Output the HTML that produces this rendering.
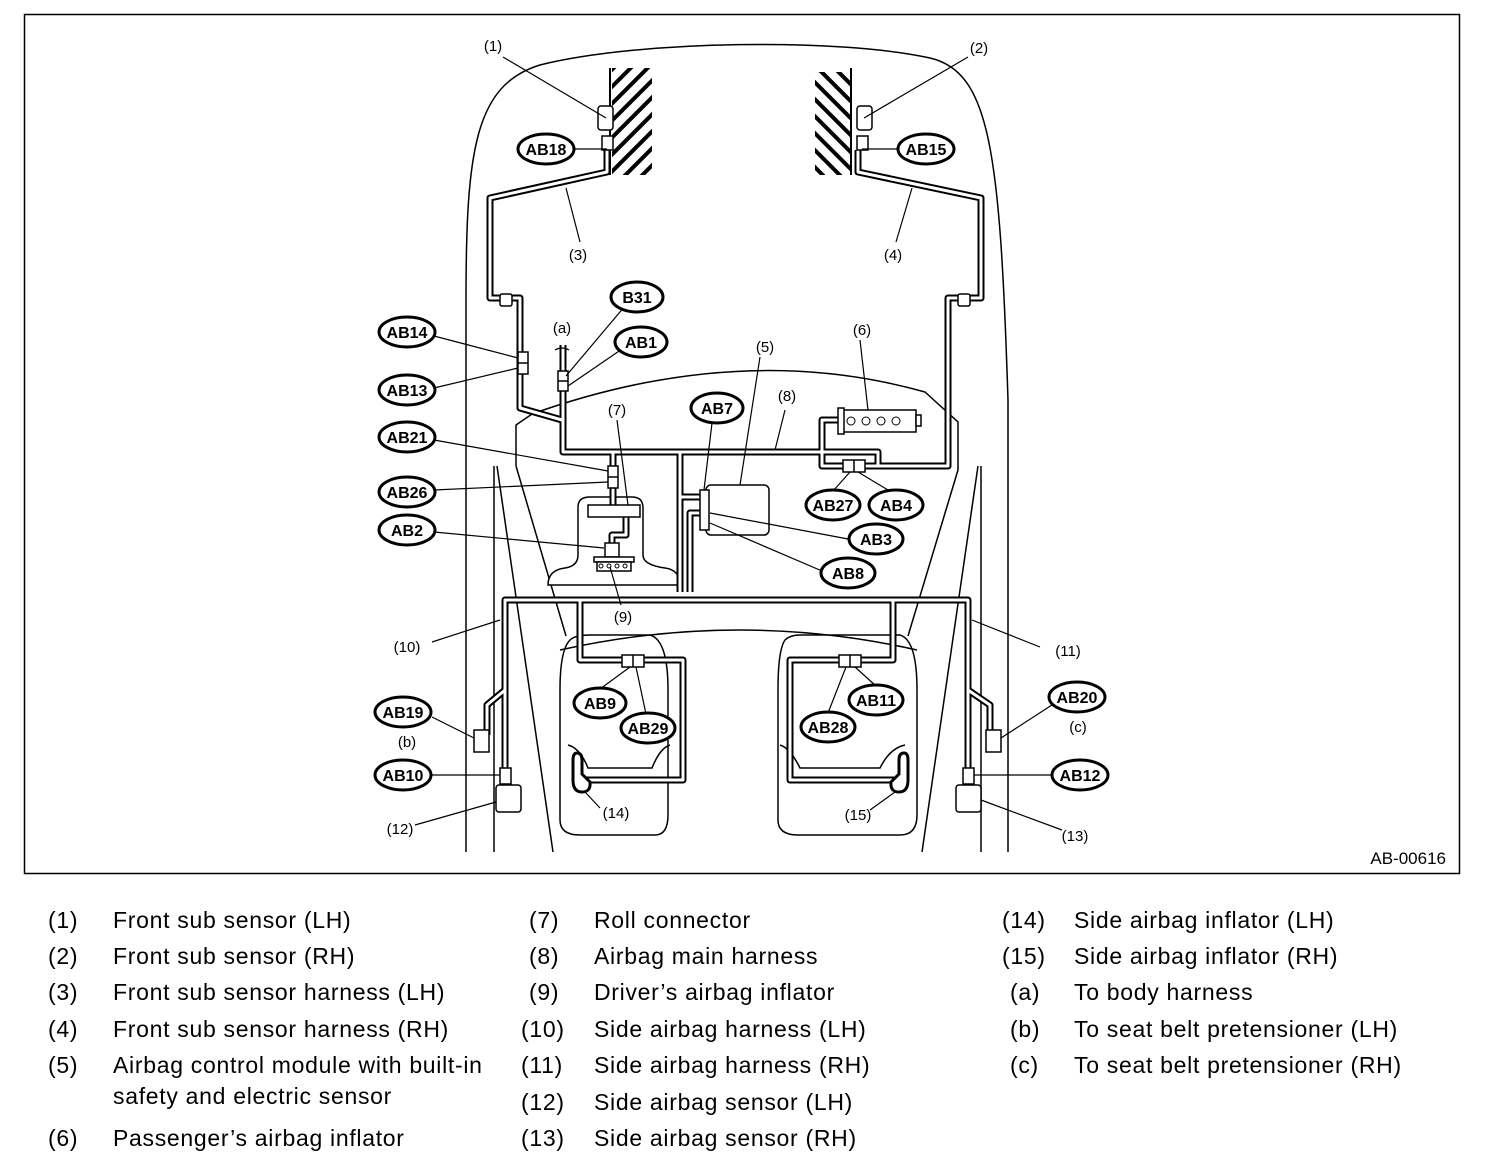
<!DOCTYPE html>
<html><head><meta charset="utf-8"><style>
html,body{margin:0;padding:0;background:#fff;}
body{width:1504px;height:1174px;position:relative;overflow:hidden;font-family:"Liberation Sans",sans-serif;}
svg{position:absolute;left:0;top:0;}
.t{font-family:"Liberation Sans",sans-serif;}
.lg{position:absolute;font-size:23px;letter-spacing:0.7px;color:#000;line-height:26px;white-space:nowrap;}
</style></head><body>
<svg width="1504" height="1174" viewBox="0 0 1504 1174">
<defs>
<pattern id="hl" width="12" height="12" patternUnits="userSpaceOnUse" patternTransform="rotate(45)"><rect width="12" height="12" fill="#fff"/><rect x="0" y="0" width="4" height="12" fill="#000"/></pattern>
<pattern id="hr" width="12" height="12" patternUnits="userSpaceOnUse" patternTransform="rotate(-45)"><rect width="12" height="12" fill="#fff"/><rect x="0" y="0" width="4" height="12" fill="#000"/></pattern>
<path id="h3" d="M607,150 V172 L490,198 V298 H520 V408 L562,420"/>
<path id="h4" d="M858,150 V172 L981,198 V298 H948 V466 H880"/>
<path id="ha" d="M563,345 V452 H878 V466"/>
<path id="h6" d="M842,420 H822 V466 H880"/>
<path id="h7" d="M613,452 V510"/>
<path id="h9" d="M626,517 V535 H612 V560"/>
<path id="hm" d="M680,452 V592"/>
<path id="hm2" d="M700,497 H680 M700,513 H690 V592"/>
<path id="hs" d="M505,775 V600 H968 V775"/>
<path id="hsl" d="M580,600 V660 H683 V780 H580"/>
<path id="hsr" d="M893,600 V660 H790 V780 H900"/>
<path id="hbl" d="M505,690 L487,705 V735"/>
<path id="hbr" d="M968,690 L990,705 V735"/>
</defs>
<rect x="24.5" y="14.5" width="1435" height="859" fill="none" stroke="#000" stroke-width="1.5"/>
<path d="M466,852 V300 C466,150 475,85 540,65 C640,40 840,38 930,58 C990,72 1000,150 1008,400 V852" fill="none" stroke="#000" stroke-width="1.5"/>
<rect x="612" y="68" width="40" height="107" fill="url(#hl)"/>
<line x1="610" y1="68" x2="610" y2="175" stroke="#000" stroke-width="2"/>
<rect x="815" y="72" width="35" height="103" fill="url(#hr)"/>
<line x1="851" y1="68" x2="851" y2="175" stroke="#000" stroke-width="2"/>
<path d="M516,466 V425 L532,414 Q740,340 925,392 L958,422 V470" fill="none" stroke="#000" stroke-width="1.5"/>
<path d="M516,466 L566,636" fill="none" stroke="#000" stroke-width="1.5"/>
<path d="M958,470 L908,636" fill="none" stroke="#000" stroke-width="1.5"/>
<path d="M494,466 V852 M981,466 V852 M497,466 L553,852 M978,466 L922,852" fill="none" stroke="#000" stroke-width="1.5"/>
<path d="M578,530 V507 Q578,497 590,497 H632 Q643,497 643,508 V555 Q643,565 665,568 Q680,570 680,585 H548 Q548,570 565,568 Q578,566 578,555 Z" fill="#fff" stroke="#000" stroke-width="1.5"/>
<path d="M570,640 Q560,650 560,690 V820 Q560,835 580,835 H655 Q668,835 668,815 V690 Q668,640 650,635 H590 Q575,635 570,640 Z" fill="none" stroke="#000" stroke-width="1.5"/>
<path d="M568,745 Q580,748 588,768 H652 Q660,748 670,745" fill="none" stroke="#000" stroke-width="1.5"/>
<path d="M785,640 Q778,650 778,690 V820 Q778,835 798,835 H900 Q917,835 917,815 V690 Q917,640 900,635 H800 Q790,635 785,640 Z" fill="none" stroke="#000" stroke-width="1.5"/>
<path d="M780,745 Q790,748 800,768 H880 Q890,748 905,745" fill="none" stroke="#000" stroke-width="1.5"/>
<path d="M560,650 Q740,610 917,650" fill="none" stroke="#000" stroke-width="1.5"/>
<g fill="none" stroke="#000" stroke-width="7" stroke-linejoin="round">
<use href="#h3"/><use href="#h4"/><use href="#ha"/><use href="#h6"/><use href="#h7"/><use href="#h9"/><use href="#hm"/><use href="#hm2"/><use href="#hs"/><use href="#hsl"/><use href="#hsr"/><use href="#hbl"/><use href="#hbr"/>
</g>
<g fill="none" stroke="#fff" stroke-width="3" stroke-linejoin="round">
<use href="#h3"/><use href="#h4"/><use href="#ha"/><use href="#h6"/><use href="#h7"/><use href="#h9"/><use href="#hm"/><use href="#hm2"/><use href="#hs"/><use href="#hsl"/><use href="#hsr"/><use href="#hbl"/><use href="#hbr"/>
</g>
<g fill="#fff" stroke="#000" stroke-width="1.5">
<rect x="598" y="106" width="15" height="24" rx="3"/><rect x="602" y="136" width="11" height="14"/>
<rect x="857" y="106" width="15" height="24" rx="3"/><rect x="857" y="136" width="11" height="14"/>
<rect x="500" y="294" width="12" height="12" rx="2"/><rect x="958" y="294" width="12" height="12" rx="2"/>
<rect x="518" y="352" width="10" height="22"/><line x1="518" y1="363" x2="528" y2="363"/>
<rect x="558" y="371" width="10" height="20"/><line x1="558" y1="381" x2="568" y2="381"/>
<rect x="608" y="466" width="10" height="22"/><line x1="608" y1="477" x2="618" y2="477"/>
<rect x="588" y="505" width="52" height="12"/>
<rect x="605" y="543" width="14" height="14"/><rect x="594" y="557" width="40" height="5"/><rect x="597" y="562" width="34" height="9"/>
<rect x="706" y="485" width="63" height="50" rx="5"/>
<rect x="700" y="490" width="9" height="40"/>
<rect x="842" y="410" width="74" height="22"/><rect x="838" y="408" width="6" height="26"/><rect x="916" y="415" width="5" height="11"/>
<rect x="843" y="460" width="22" height="12"/><line x1="854" y1="460" x2="854" y2="472"/>
<rect x="622" y="655" width="22" height="12"/><line x1="633" y1="655" x2="633" y2="667"/>
<rect x="839" y="655" width="22" height="12"/><line x1="850" y1="655" x2="850" y2="667"/>
<rect x="474" y="730" width="15" height="22"/><rect x="986" y="730" width="15" height="22"/>
<rect x="500" y="768" width="11" height="16"/><rect x="496" y="785" width="25" height="27" rx="3"/>
<rect x="963" y="768" width="11" height="16"/><rect x="956" y="785" width="25" height="27" rx="3"/>
</g>
<g fill="none" stroke="#000" stroke-width="1"><circle cx="851" cy="421" r="4"/><circle cx="866" cy="421" r="4"/><circle cx="881" cy="421" r="4"/><circle cx="896" cy="421" r="4"/>
<circle cx="601" cy="566" r="2"/><circle cx="609" cy="566" r="2"/><circle cx="617" cy="566" r="2"/><circle cx="625" cy="566" r="2"/></g>
<path d="M573,760 V780 Q573,792 582,792 Q591,792 590,782 L582,774 V760 Q582,753 577,753 Q573,753 573,760 Z" fill="#fff" stroke="#000" stroke-width="3"/>
<path d="M908,760 V780 Q908,792 899,792 Q890,792 891,782 L899,774 V760 Q899,753 904,753 Q908,753 908,760 Z" fill="#fff" stroke="#000" stroke-width="3"/>
<g stroke="#000" stroke-width="1.2" fill="none">
<path d="M503,57 L606,118 M968,57 L864,118 M566,188 L580,242 M912,188 L896,242"/>
<path d="M574,149 H607 M898,149 H862"/>
<path d="M434,336 L518,358 M434,388 L518,368"/>
<path d="M625,306 L566,376 M625,347 L568,386"/>
<path d="M434,440 L608,471 M434,490 L608,482 M434,532 L604,548"/>
<path d="M617,420 L628,505 M712,423 L704,490 M760,357 L740,485 M785,410 L775,450 M860,340 L868,410"/>
<path d="M833,491 L850,472 M888,490 L858,472 M848,539 L710,513 M822,571 L710,523"/>
<path d="M610,567 L621,605 M432,642 L500,620 M1040,647 L972,620"/>
<path d="M600,689 L630,667 M646,714 L636,667 M876,686 L855,667 M828,713 L846,667"/>
<path d="M432,717 L474,738 M1055,703 L1001,738 M432,775 H500 M1053,775 H974"/>
<path d="M415,825 L496,802 M1062,830 L981,800 M600,808 L585,792 M870,810 L895,792"/>
<path d="M555,350 Q562,346 569,350"/>
</g>
<g fill="#fff" stroke="#000" stroke-width="3">
<ellipse cx="546" cy="149" rx="28" ry="15"/><ellipse cx="926" cy="149" rx="28" ry="15"/>
<ellipse cx="637" cy="297" rx="26" ry="15"/><ellipse cx="641" cy="342" rx="26" ry="15"/>
<ellipse cx="407" cy="332" rx="28" ry="15"/><ellipse cx="407" cy="390" rx="28" ry="15"/>
<ellipse cx="407" cy="437" rx="28" ry="15"/><ellipse cx="407" cy="492" rx="28" ry="15"/>
<ellipse cx="407" cy="530" rx="28" ry="15"/><ellipse cx="717" cy="408" rx="26" ry="15"/>
<ellipse cx="833" cy="505" rx="27" ry="15"/><ellipse cx="896" cy="505" rx="27" ry="15"/>
<ellipse cx="876" cy="539" rx="27" ry="15"/><ellipse cx="848" cy="573" rx="27" ry="15"/>
<ellipse cx="600" cy="703" rx="26" ry="15"/><ellipse cx="648" cy="728" rx="27" ry="15"/>
<ellipse cx="876" cy="700" rx="27" ry="15"/><ellipse cx="828" cy="727" rx="27" ry="15"/>
<ellipse cx="403" cy="712" rx="28" ry="15"/><ellipse cx="403" cy="775" rx="28" ry="15"/>
<ellipse cx="1077" cy="697" rx="28" ry="15"/><ellipse cx="1080" cy="775" rx="28" ry="15"/>
</g>
<g class="t" font-size="16" font-weight="bold" text-anchor="middle" fill="#000">
<text x="546" y="155">AB18</text><text x="926" y="155">AB15</text>
<text x="637" y="303">B31</text><text x="641" y="348">AB1</text>
<text x="407" y="338">AB14</text><text x="407" y="396">AB13</text>
<text x="407" y="443">AB21</text><text x="407" y="498">AB26</text>
<text x="407" y="536">AB2</text><text x="717" y="414">AB7</text>
<text x="833" y="511">AB27</text><text x="896" y="511">AB4</text>
<text x="876" y="545">AB3</text><text x="848" y="579">AB8</text>
<text x="600" y="709">AB9</text><text x="648" y="734">AB29</text>
<text x="876" y="706">AB11</text><text x="828" y="733">AB28</text>
<text x="403" y="718">AB19</text><text x="403" y="781">AB10</text>
<text x="1077" y="703">AB20</text><text x="1080" y="781">AB12</text>
</g>
<g class="t" font-size="15" text-anchor="middle" fill="#000">
<text x="493" y="51">(1)</text><text x="979" y="53">(2)</text>
<text x="578" y="260">(3)</text><text x="893" y="260">(4)</text>
<text x="562" y="333">(a)</text><text x="765" y="352">(5)</text>
<text x="862" y="335">(6)</text><text x="617" y="415">(7)</text>
<text x="787" y="401">(8)</text><text x="623" y="622">(9)</text>
<text x="407" y="652">(10)</text><text x="1068" y="656">(11)</text>
<text x="407" y="747">(b)</text><text x="1078" y="732">(c)</text>
<text x="400" y="834">(12)</text><text x="1075" y="841">(13)</text>
<text x="616" y="818">(14)</text><text x="858" y="820">(15)</text>
</g>
<text class="t" x="1446" y="864" font-size="17" text-anchor="end">AB-00616</text>
</svg>
<div class="lg" style="left:48px;top:907px">(1)</div><div class="lg" style="left:113px;top:907px">Front sub sensor (LH)</div>
<div class="lg" style="left:48px;top:943px">(2)</div><div class="lg" style="left:113px;top:943px">Front sub sensor (RH)</div>
<div class="lg" style="left:48px;top:979px">(3)</div><div class="lg" style="left:113px;top:979px">Front sub sensor harness (LH)</div>
<div class="lg" style="left:48px;top:1016px">(4)</div><div class="lg" style="left:113px;top:1016px">Front sub sensor harness (RH)</div>
<div class="lg" style="left:48px;top:1052px">(5)</div><div class="lg" style="left:113px;top:1052px">Airbag control module with built-in</div>
<div class="lg" style="left:113px;top:1083px">safety and electric sensor</div>
<div class="lg" style="left:48px;top:1125px">(6)</div><div class="lg" style="left:113px;top:1125px">Passenger’s airbag inflator</div>
<div class="lg" style="left:529px;top:907px">(7)</div><div class="lg" style="left:594px;top:907px">Roll connector</div>
<div class="lg" style="left:529px;top:943px">(8)</div><div class="lg" style="left:594px;top:943px">Airbag main harness</div>
<div class="lg" style="left:529px;top:979px">(9)</div><div class="lg" style="left:594px;top:979px">Driver’s airbag inflator</div>
<div class="lg" style="left:521px;top:1016px">(10)</div><div class="lg" style="left:594px;top:1016px">Side airbag harness (LH)</div>
<div class="lg" style="left:521px;top:1052px">(11)</div><div class="lg" style="left:594px;top:1052px">Side airbag harness (RH)</div>
<div class="lg" style="left:521px;top:1089px">(12)</div><div class="lg" style="left:594px;top:1089px">Side airbag sensor (LH)</div>
<div class="lg" style="left:521px;top:1125px">(13)</div><div class="lg" style="left:594px;top:1125px">Side airbag sensor (RH)</div>
<div class="lg" style="left:1002px;top:907px">(14)</div><div class="lg" style="left:1074px;top:907px">Side airbag inflator (LH)</div>
<div class="lg" style="left:1002px;top:943px">(15)</div><div class="lg" style="left:1074px;top:943px">Side airbag inflator (RH)</div>
<div class="lg" style="left:1010px;top:979px">(a)</div><div class="lg" style="left:1074px;top:979px">To body harness</div>
<div class="lg" style="left:1010px;top:1016px">(b)</div><div class="lg" style="left:1074px;top:1016px">To seat belt pretensioner (LH)</div>
<div class="lg" style="left:1010px;top:1052px">(c)</div><div class="lg" style="left:1074px;top:1052px">To seat belt pretensioner (RH)</div>
</body></html>
